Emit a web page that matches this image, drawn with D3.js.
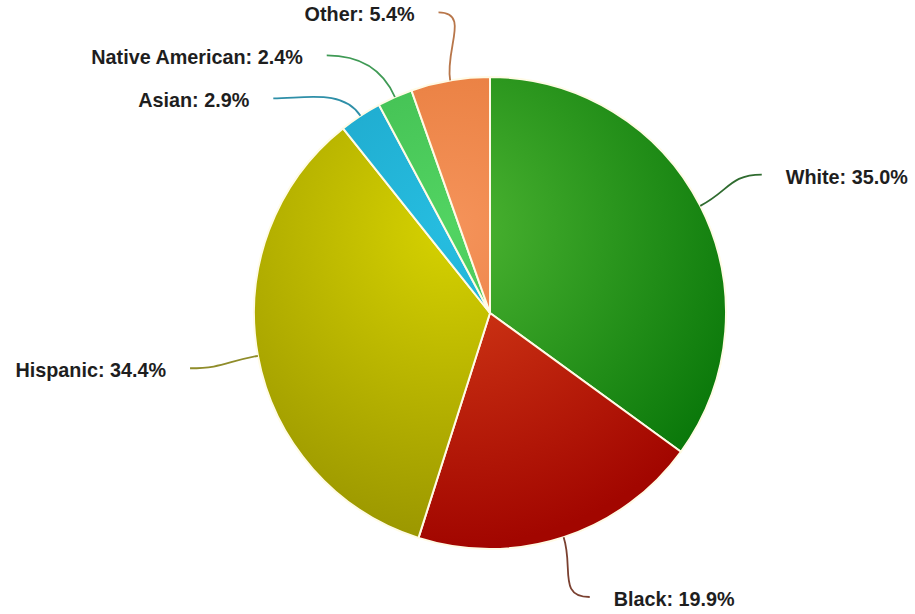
<!DOCTYPE html>
<html>
<head>
<meta charset="utf-8">
<script src="https://cdn.jsdelivr.net/npm/d3@7"></script>
<style>
html,body{margin:0;padding:0;background:#fff;}
svg{display:block;}
</style>
</head>
<body>
<svg id="chart" width="915" height="614"></svg>
<script>
const categories = ["White", "Black", "Hispanic", "Asian", "Native American", "Other"];
const values = [35.0, 19.9, 34.4, 2.9, 2.4, 5.4];
const lightColors = ["#4db532", "#d9411a", "#d6d200", "#26bde0", "#52d462", "#f5935a"];
const darkColors  = ["#0a780a", "#a20600", "#9a9600", "#1a9cc0", "#38b048", "#e0702e"];
const lineColors  = ["#2f6b2f", "#7a4030", "#8f8c2a", "#2e8fa8", "#3f9a55", "#b8764a"];

const W = 915, H = 614;
const cx = 490, cy = 313, R = 236;
const labelR = R + 69;
const fontSize = 19.8;

const svg = d3.select("#chart");
const defs = svg.append("defs");

categories.forEach((c, i) => {
  const g = defs.append("radialGradient")
    .attr("id", "grad" + i)
    .attr("gradientUnits", "userSpaceOnUse")
    .attr("cx", -40).attr("cy", -85)
    .attr("fx", -40).attr("fy", -85)
    .attr("r", R * 1.35);
  g.append("stop").attr("offset", "0%").attr("stop-color", lightColors[i]);
  g.append("stop").attr("offset", "100%").attr("stop-color", darkColors[i]);
});

const data = categories.map((c, i) => ({ name: c, value: values[i], i }));
const pie = d3.pie().value(d => d.value).sort(null);
const arcs = pie(data);
const arc = d3.arc().innerRadius(0).outerRadius(R);

const g = svg.append("g").attr("transform", `translate(${cx},${cy})`);

g.selectAll("path.slice")
  .data(arcs)
  .join("path")
  .attr("class", "slice")
  .attr("d", arc)
  .attr("fill", d => `url(#grad${d.data.i})`)
  .attr("stroke", "#fffbe6")
  .attr("stroke-width", 2)
  .attr("stroke-linejoin", "round");

// label layout (Highcharts-like): place at labelR along mid-angle, resolve collisions per side
const labels = arcs.map(a => {
  const mid = (a.startAngle + a.endAngle) / 2;
  return {
    a, mid,
    side: Math.sin(mid) >= 0 ? 1 : -1,
    ex: R * Math.sin(mid), ey: -R * Math.cos(mid),
    y: -labelR * Math.cos(mid),
    rr: labelR
  };
});
const minGap = 43;
const maxY = H - cy - 17;
[1, -1].forEach(side => {
  const s = labels.filter(l => l.side === side).sort((p, q) => p.y - q.y);
  for (let k = 1; k < s.length; k++) {
    if (s[k].y - s[k - 1].y < minGap) s[k].y = s[k - 1].y + minGap;
  }
  s.forEach(l => { if (l.y > maxY) { l.y = maxY; l.rr = labelR - 4; } });
});
labels.forEach(l => {
  const dy = Math.max(-l.rr, Math.min(l.rr, l.y));
  l.x = l.side * Math.sqrt(l.rr * l.rr - dy * dy);
});

const lg = svg.append("g").attr("transform", `translate(${cx},${cy})`);
lg.selectAll("path.conn")
  .data(labels)
  .join("path")
  .attr("class", "conn")
  .attr("d", l => {
    const dir = [Math.sin(l.mid), -Math.cos(l.mid)];
    const c1 = [l.ex + dir[0] * 32, l.ey + dir[1] * 32];
    const c2 = [l.x - l.side * 32, l.y];
    return `M${l.ex},${l.ey}C${c1[0]},${c1[1]} ${c2[0]},${c2[1]} ${l.x},${l.y}`;
  })
  .attr("fill", "none")
  .attr("stroke", l => lineColors[l.a.data.i])
  .attr("stroke-width", 1.8);

lg.selectAll("text.lbl")
  .data(labels)
  .join("text")
  .attr("class", "lbl")
  .attr("x", l => l.x + l.side * 24)
  .attr("y", l => l.y + 9)
  .attr("text-anchor", l => l.side > 0 ? "start" : "end")
  .attr("font-family", "'Liberation Sans', Arial, sans-serif")
  .attr("font-weight", "bold")
  .attr("font-size", fontSize)
  .attr("fill", "#1e1e1e")
  .text(l => `${l.a.data.name}: ${l.a.data.value.toFixed(1)}%`);
</script>
</body>
</html>
